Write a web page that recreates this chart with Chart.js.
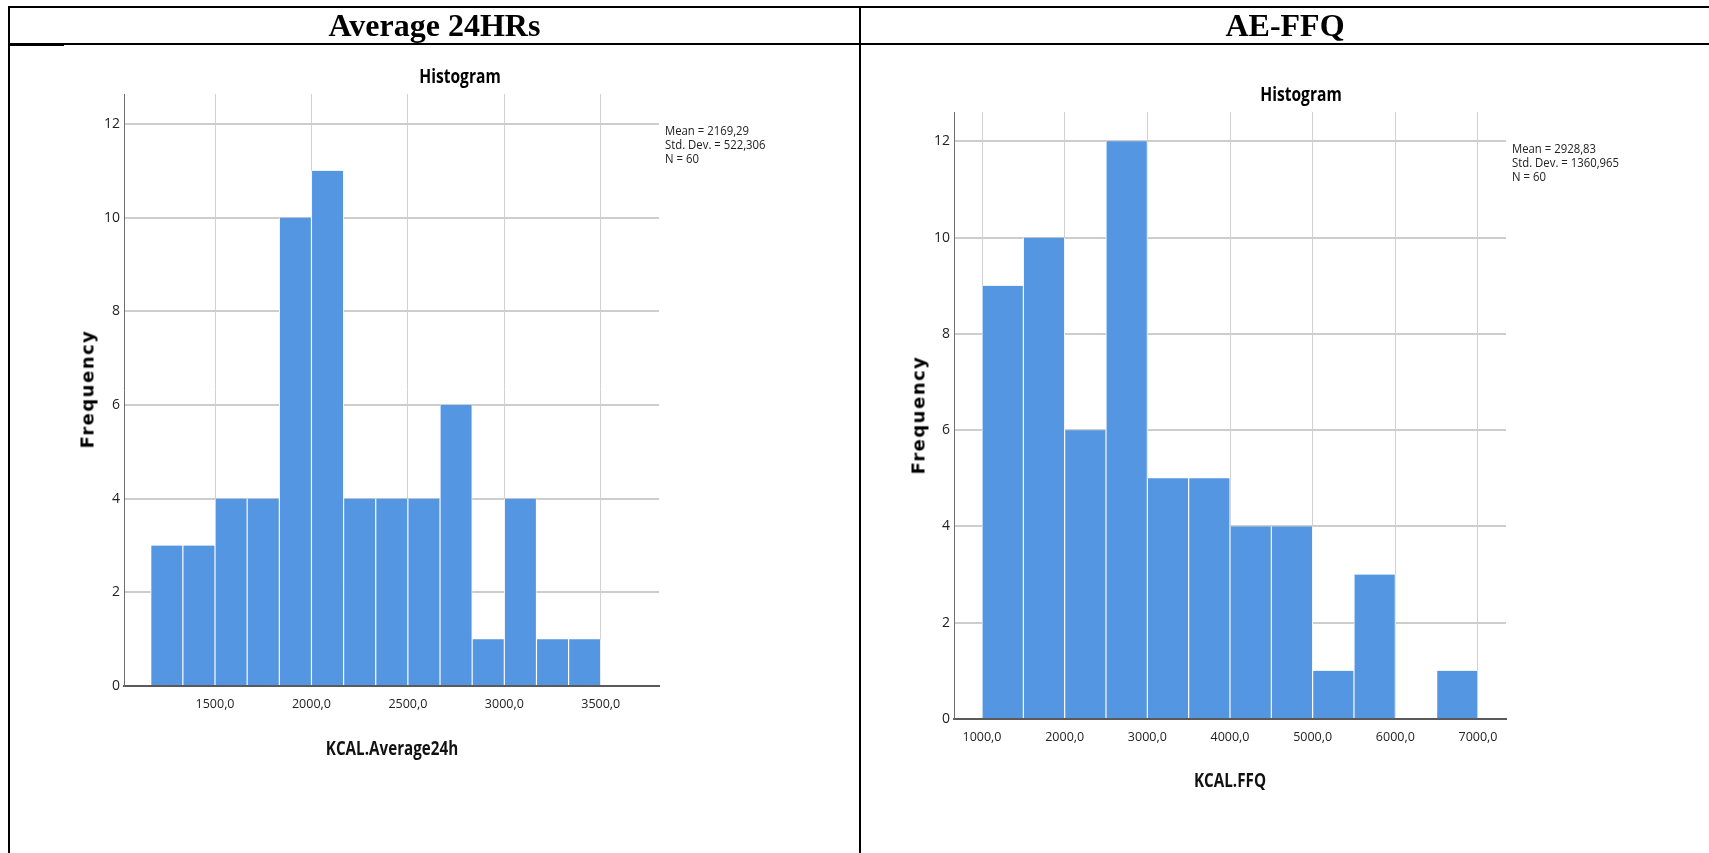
<!DOCTYPE html>
<html lang="en">
<head>
<meta charset="UTF-8">
<title>Histograms KCAL</title>
<script src="https://cdn.jsdelivr.net/npm/chart.js@4.4.0/dist/chart.umd.min.js"></script>
<style>
  * { margin: 0; padding: 0; box-sizing: border-box; }
  body { background: #fff; width: 1709px; height: 853px; overflow: hidden; }
  .page { position: relative; width: 1709px; height: 853px; }
  .line { position: absolute; background: #000; }
  .head {
    position: absolute; top: 6px; height: 38px; line-height: 38px;
    text-align: center; font-family: "Liberation Serif", "Times New Roman", serif;
    font-weight: bold; font-size: 32px; color: #000;
  }
  canvas { position: absolute; top: 0; }
  .txt {
    position: absolute; white-space: nowrap; color: #000;
    font-family: "Open Sans", sans-serif;
  }
  .title { font-size: 20px; font-weight: bold; transform: translateX(-50%) scaleX(0.78); }
  .stats { font-size: 13.5px; line-height: 14px; color: #222; transform: scaleX(0.84); transform-origin: left top; }
  .xtitle { font-size: 20px; font-weight: bold; transform: translateX(-50%) scaleX(0.76); color: #111; }
  .ytitle {
    font-family: "DejaVu Sans", sans-serif; font-weight: bold; font-size: 18px;
    letter-spacing: 1.5px; transform: translate(-50%, -50%) rotate(-90deg);
  }
</style>
</head>
<body>
<div class="page">
  <canvas id="avgChart" width="860" height="853" style="left:0"></canvas>
  <canvas id="ffqChart" width="849" height="853" style="left:860px"></canvas>

  <!-- table lines -->
  <div class="line" style="left:8px; top:6px; width:1701px; height:2px"></div>
  <div class="line" style="left:8px; top:43px; width:1701px; height:2px"></div>
  <div class="line" style="left:8px; top:45px; width:56px; height:1px"></div>
  <div class="line" style="left:8px; top:6px; width:2px; height:847px"></div>
  <div class="line" style="left:859px; top:6px; width:2px; height:847px"></div>

  <div class="head" style="left:10px; width:849px">Average 24HRs</div>
  <div class="head" style="left:861px; width:848px">AE-FFQ</div>

  <div class="txt title" style="left:460px; top:62px">Histogram</div>
  <div class="txt stats" style="left:665px; top:123px">Mean = 2169,29<br>Std. Dev. = 522,306<br>N = 60</div>
  <div class="txt xtitle" style="left:392px; top:734px">KCAL.Average24h</div>
  <div class="txt ytitle" style="left:87px; top:389px">Frequency</div>

  <div class="txt title" style="left:1301px; top:80px">Histogram</div>
  <div class="txt stats" style="left:1512px; top:141px">Mean = 2928,83<br>Std. Dev. = 1360,965<br>N = 60</div>
  <div class="txt xtitle" style="left:1230px; top:766px">KCAL.FFQ</div>
  <div class="txt ytitle" style="left:918px; top:415px">Frequency</div>
</div>

<script>
// bin edges and counts
const avgBinEdges = [1166.7, 1333.3, 1500, 1666.7, 1833.3, 2000, 2166.7, 2333.3,
                     2500, 2666.7, 2833.3, 3000, 3166.7, 3333.3, 3500];
const avgCounts = [3, 3, 4, 4, 10, 11, 4, 4, 4, 6, 1, 4, 1, 1];
const avgTicks = [1500, 2000, 2500, 3000, 3500];

const ffqBinEdges = [1000, 1500, 2000, 2500, 3000, 3500, 4000,
                     4500, 5000, 5500, 6000, 6500, 7000];
const ffqCounts = [9, 10, 6, 12, 5, 5, 4, 4, 1, 3, 0, 1];
const ffqTicks = [1000, 2000, 3000, 4000, 5000, 6000, 7000];

const freqTicks = [0, 2, 4, 6, 8, 10, 12];

const BAR_BLUE = '#5596e3';
const TICK_FONT = "'Open Sans', sans-serif";

function toPoints(edges, counts) {
  return counts.map((c, i) => ({ x: (edges[i] + edges[i + 1]) / 2, y: c }));
}

function histogram(id, edges, counts, xTicks, xRange, yMax, pad) {
  const ctx = document.getElementById(id).getContext('2d');
  return new Chart(ctx, {
    type: 'bar',
    data: {
      datasets: [{
        data: toPoints(edges, counts),
        backgroundColor: BAR_BLUE,
        borderColor: '#ffffff',
        borderWidth: { left: 0.9, right: 0.9, top: 0, bottom: 0 },
        borderSkipped: false,
        barPercentage: 1,
        categoryPercentage: 1
      }]
    },
    options: {
      responsive: false,
      animation: false,
      devicePixelRatio: 1,
      layout: { padding: pad },
      plugins: { legend: { display: false }, tooltip: { enabled: false } },
      scales: {
        x: {
          type: 'linear',
          offset: false,
          min: xRange[0],
          max: xRange[1],
          afterBuildTicks: s => { s.ticks = xTicks.map(v => ({ value: v })); },
          afterFit: s => { s.height = 30; },
          grid: { offset: false, color: '#d2d2d2', lineWidth: 1, drawTicks: false },
          border: { color: '#5a5a5a', width: 2 },
          ticks: {
            padding: 11,
            color: '#222',
            font: { family: TICK_FONT, size: 12.5 },
            callback: v => v.toFixed(1).replace('.', ',')
          }
        },
        y: {
          min: 0,
          max: yMax,
          afterBuildTicks: s => { s.ticks = freqTicks.map(v => ({ value: v })); },
          afterFit: s => { s.width = 40; },
          grid: {
            color: c => c.tick && c.tick.value === 0 ? 'rgba(0,0,0,0)' : '#cdcdcd',
            lineWidth: 2,
            drawTicks: false
          },
          border: { color: '#6e6e6e', width: 1 },
          ticks: {
            padding: 4,
            color: '#222',
            font: { family: TICK_FONT, size: 14 }
          }
        }
      }
    }
  });
}

histogram('avgChart', avgBinEdges, avgCounts, avgTicks, [1028, 3802], 12.64,
  { left: 84, right: 201, top: 94, bottom: 137 });
histogram('ffqChart', ffqBinEdges, ffqCounts, ffqTicks, [661, 7339], 12.61,
  { left: 54, right: 203, top: 112, bottom: 104 });
</script>
</body>
</html>
